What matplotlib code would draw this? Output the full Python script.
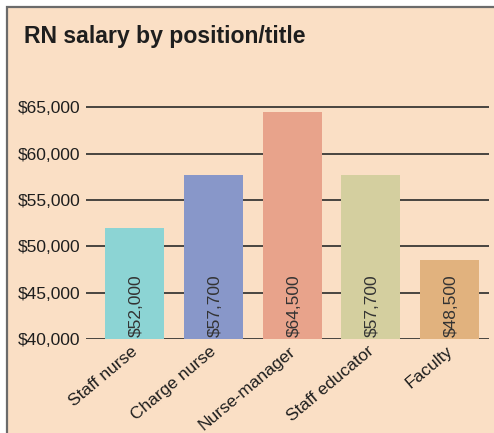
import matplotlib.pyplot as plt
from matplotlib.patches import Rectangle
from matplotlib import font_manager

############# data ##############################################################

positions = ['Staff nurse', 'Charge nurse', 'Nurse-manager', 'Staff educator', 'Faculty']
salaries = [52000, 57700, 64500, 57700, 48500]
bar_colors = ['#8cd4d4', '#8897c9', '#e8a38b', '#d4cf9f', '#e1b27e']
yticks = [40000, 45000, 50000, 55000, 60000, 65000]

bg = '#fadfc5'
font = 'Liberation Sans'
installed = {f.name for f in font_manager.fontManager.ttflist}
has_narrow = 'Liberation Sans Narrow' in installed
narrow = 'Liberation Sans Narrow' if has_narrow else 'Liberation Sans'

############ plot ###############################################################

fig = plt.figure(figsize=(4.94, 4.33), dpi=100)
fig.patch.set_facecolor('white')
fig.patches.append(Rectangle((7 / 494, -0.1), 1.2, (433 - 7) / 433 + 0.1,
                             transform=fig.transFigure, facecolor=bg,
                             edgecolor='#6b6b6b', lw=1.6, zorder=-5))

fig.text(24 / 494, 1 - 43 / 433, 'RN salary by position/title', family=narrow,
         weight='bold', fontsize=20 if has_narrow else 16.6, color='#1e1e1e',
         va='baseline')

ax = fig.add_axes([86 / 494, (433 - 339.3) / 433, (489 - 86) / 494, (339.3 - 98) / 433])
ax.set_zorder(1)
ax.set_facecolor('none')
for s in ax.spines.values():
    s.set_visible(False)

x = range(len(positions))
for v in yticks:
    ax.axhline(v, color='#2a2a2a', lw=1.2, zorder=1)
ax.bar(x, [s - 40000 for s in salaries], bottom=40000, width=0.75,
       color=bar_colors, zorder=2)

for i, s in enumerate(salaries):
    ax.text(i + 0.02, 40250, '${:,}'.format(s), rotation=90, ha='center', va='bottom',
            family=narrow, fontsize=14 if has_narrow else 12.5, color='#333333', zorder=3)

ax.set_xlim(-0.62, 4.5)
ax.set_ylim(40000, 66000)
ax.set_yticks(yticks)
ax.set_yticklabels(['${:,}'.format(v) for v in yticks], family=font,
                   fontsize=12.5, color='#1e1e1e')
ax.set_xticks([i - 0.05 for i in x])
ax.set_xticklabels(positions, rotation=40, ha='right', va='top',
                   rotation_mode='anchor', family=font, fontsize=12.5, color='#1e1e1e')
ax.tick_params(axis='both', length=0)
ax.tick_params(axis='y', pad=4)
ax.tick_params(axis='x', pad=3)

fig.savefig('out.png', dpi=100, facecolor=fig.get_facecolor())
